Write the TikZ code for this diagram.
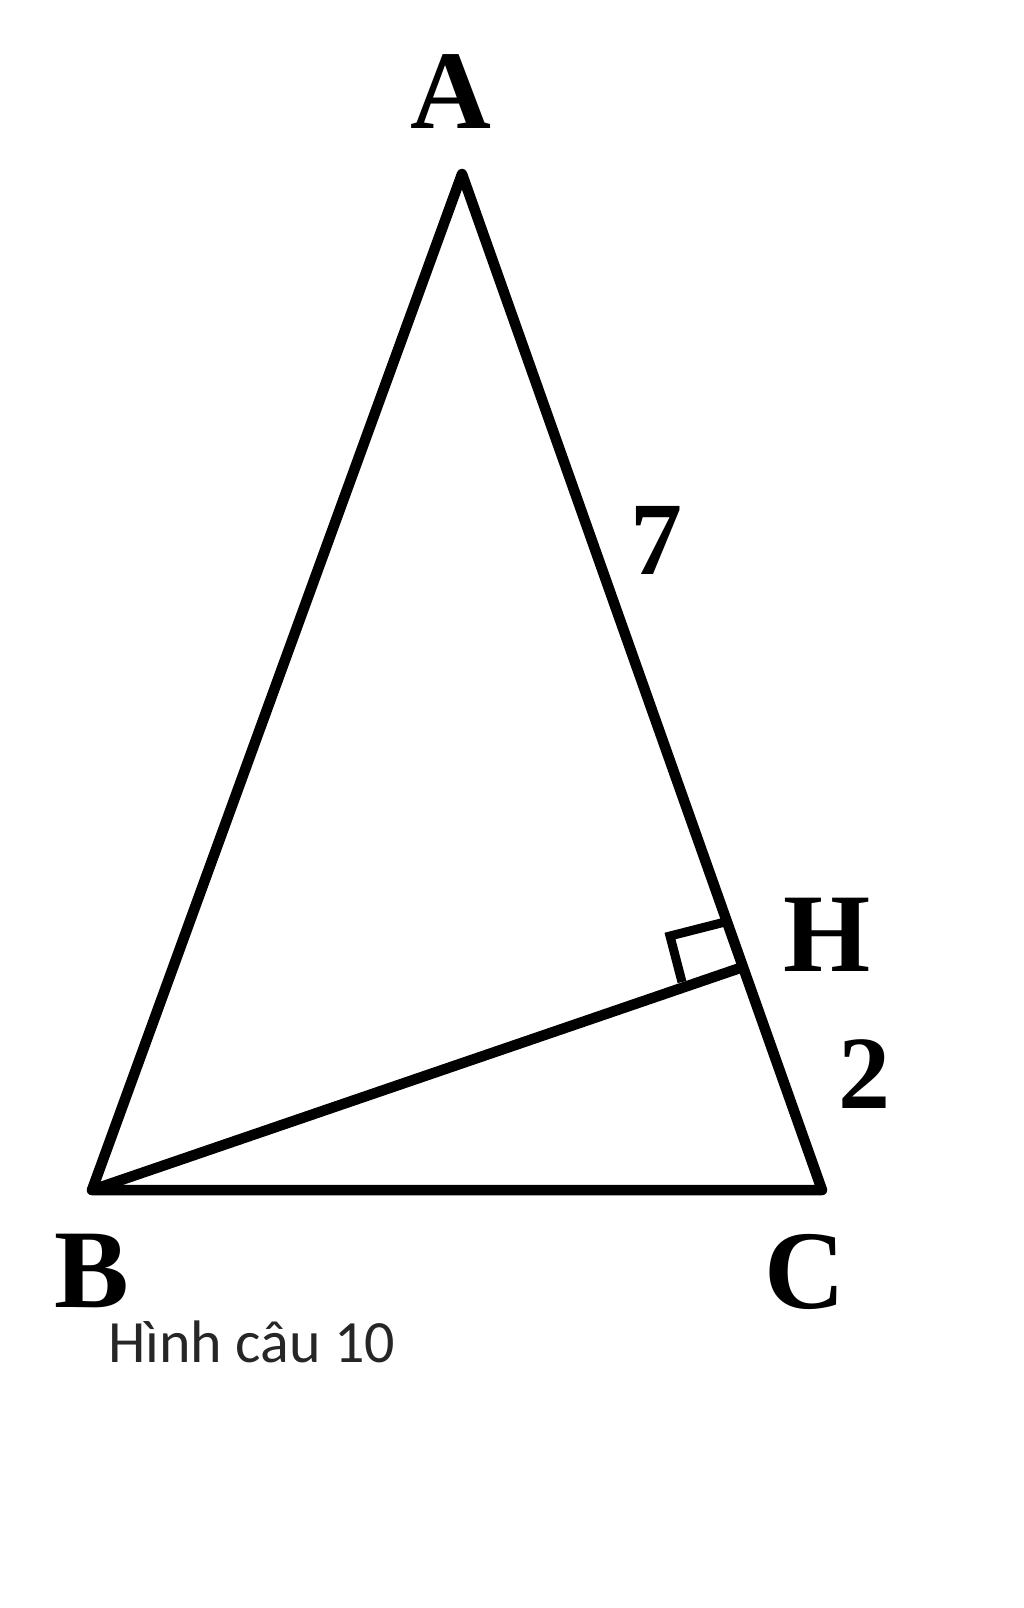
\documentclass[tikz,border=0pt]{standalone}
\usepackage{fontspec}
\setmainfont{Liberation Serif}
\newfontfamily\capfont{Carlito}
\begin{document}
\begin{tikzpicture}[x=1pt,y=-1pt,
  edge/.style={line width=10.5pt,line join=round,line cap=round},
  vlabel/.style={font=\fontsize{112}{112}\selectfont\bfseries,inner sep=0pt},
  nlabel/.style={font=\fontsize{104}{104}\selectfont\bfseries,inner sep=0pt},
  caption/.style={font=\capfont\fontsize{60}{60}\selectfont,text=black!85,inner sep=0pt,anchor=base west}]
\useasboundingbox (0,0) rectangle (1024,1608);
\coordinate (A) at (462,174);
\coordinate (B) at (92,1190);
\coordinate (C) at (822,1190);
\coordinate (H) at (740,968);
\draw[edge] (A) -- (B) -- (C) -- cycle;
\draw[edge] (B) -- (H);
\draw[line width=9pt,line join=miter] (725,922) -- (670,936) -- (682,982);
\node[vlabel] (lA) at (451,92) {A};
\node[vlabel] (lB) at (92,1271) {B};
\node[vlabel] (lC) at (805,1272) {C};
\node[vlabel] (lH) at (827,935) {H};
\node[nlabel] (l7) at (656,540) {7};
\node[nlabel] (l2) at (864,1074) {2};
\node[caption] (cap) at (108,1362) {Hình câu 10};
\end{tikzpicture}
\end{document}
